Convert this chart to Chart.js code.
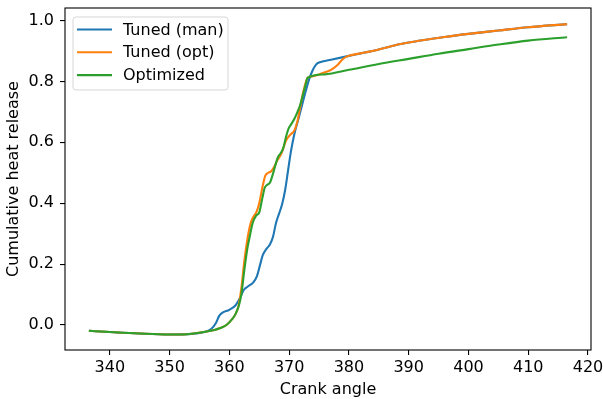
<!DOCTYPE html>
<html>
<head>
<meta charset="utf-8">
<script src="https://cdn.jsdelivr.net/npm/chart.js@4/dist/chart.umd.min.js"></script>
<style>
  html, body { margin: 0; padding: 0; background: #fff; }
  #wrap { width: 603px; height: 399px; }
</style>
</head>
<body>
<div id="wrap"><canvas id="heat-chart" width="603" height="399"></canvas></div>
<script>
// crank angle (deg) / cumulative heat release
let man_x = [336.5, 340, 345, 350, 353, 356, 357, 357.7, 358.3, 358.8, 360, 361, 361.8, 362.4, 363.2, 364, 364.6, 365.1, 365.6, 366.2, 366.8, 367.3, 367.8, 368.3, 368.8, 369.3, 369.8, 370.3, 370.9, 371.6, 372.2, 372.8, 373.4, 373.9, 374.5, 375, 377, 379.8, 382, 385, 388.4, 392, 396, 400, 405, 410, 416.5];
let man_y = [-0.019, -0.023, -0.028, -0.031, -0.03, -0.022, -0.012, 0.005, 0.03, 0.04, 0.05, 0.064, 0.09, 0.115, 0.128, 0.14, 0.16, 0.195, 0.23, 0.25, 0.265, 0.29, 0.335, 0.365, 0.395, 0.44, 0.505, 0.57, 0.63, 0.68, 0.725, 0.77, 0.81, 0.835, 0.855, 0.862, 0.871, 0.883, 0.892, 0.905, 0.922, 0.934, 0.946, 0.956, 0.967, 0.978, 0.988];

let opt_x = [336.5, 340, 345, 350, 352, 354, 356, 357.5, 358.5, 359.5, 360.5, 361, 361.5, 362, 362.5, 363, 363.5, 364, 364.5, 365, 365.5, 366, 366.5, 367, 367.5, 368, 368.7, 369.5, 370.2, 370.9, 371.4, 371.8, 372.3, 373.1, 374, 375, 376, 377, 378, 378.9, 379.8, 382, 385, 388.4, 392, 396, 400, 405, 410, 416.5];
let opt_y = [-0.019, -0.023, -0.028, -0.031, -0.031, -0.028, -0.022, -0.016, -0.01, 0.0, 0.02, 0.035, 0.06, 0.12, 0.21, 0.28, 0.33, 0.355, 0.37, 0.4, 0.45, 0.49, 0.5, 0.505, 0.52, 0.54, 0.563, 0.607, 0.625, 0.64, 0.67, 0.71, 0.76, 0.812, 0.817, 0.823, 0.83, 0.838, 0.852, 0.872, 0.883, 0.892, 0.905, 0.922, 0.934, 0.946, 0.956, 0.967, 0.978, 0.988];

let optimized_x = [336.5, 340, 345, 350, 352, 354, 356, 357.5, 358.5, 359.5, 360.5, 361, 361.6, 362, 362.5, 363, 363.4, 363.9, 364.5, 365, 365.5, 365.9, 366.3, 366.8, 367.3, 367.7, 368.1, 368.6, 369, 369.5, 369.9, 370.3, 370.9, 371.4, 371.8, 372.3, 372.7, 373.1, 376, 380, 385, 390, 395, 400, 405, 410, 416.5];
let optimized_y = [-0.019, -0.023, -0.028, -0.031, -0.031, -0.028, -0.022, -0.016, -0.01, 0.0, 0.02, 0.035, 0.065, 0.1, 0.18, 0.25, 0.29, 0.335, 0.36, 0.37, 0.415, 0.45, 0.46, 0.468, 0.497, 0.525, 0.55, 0.565, 0.58, 0.62, 0.645, 0.658, 0.678, 0.7, 0.72, 0.755, 0.785, 0.812, 0.823, 0.838, 0.857, 0.874, 0.891, 0.906, 0.921, 0.934, 0.945];

let x_ticks = [340, 350, 360, 370, 380, 390, 400, 410, 420];
let y_ticks = [0.0, 0.2, 0.4, 0.6, 0.8, 1.0];

let series_labels = ['Tuned (man)', 'Tuned (opt)', 'Optimized'];
let series_colors = ['#1f77b4', '#ff7f0e', '#2ca02c'];

let FONT = 'DejaVu Sans';
let FONT_SIZE = 16;

let to_points = function(xs, ys) {
    return xs.map(function(x, i) { return {x: x, y: ys[i]}; });
};

// full box around the plot, like matplotlib spines
let frame_plugin = {
    id: 'frame',
    afterDraw: function(chart) {
        let a = chart.chartArea;
        let ctx = chart.ctx;
        ctx.save();
        ctx.strokeStyle = '#000';
        ctx.lineWidth = 1.1;
        ctx.strokeRect(a.left, a.top, a.right - a.left, a.bottom - a.top);
        ctx.restore();
    }
};

// legend box in the upper left corner
let legend_plugin = {
    id: 'boxLegend',
    afterDatasetsDraw: function(chart) {
        let ctx = chart.ctx;
        let a = chart.chartArea;
        let bx = a.left + 8, by = a.top + 9, bw = 155, bh = 73, r = 3;
        ctx.save();
        ctx.beginPath();
        ctx.moveTo(bx + r, by);
        ctx.arcTo(bx + bw, by, bx + bw, by + bh, r);
        ctx.arcTo(bx + bw, by + bh, bx, by + bh, r);
        ctx.arcTo(bx, by + bh, bx, by, r);
        ctx.arcTo(bx, by, bx + bw, by, r);
        ctx.closePath();
        ctx.fillStyle = 'rgba(255,255,255,0.8)';
        ctx.fill();
        ctx.strokeStyle = 'rgba(204,204,204,0.8)';
        ctx.lineWidth = 1;
        ctx.stroke();

        ctx.font = FONT_SIZE + 'px "' + FONT + '"';
        ctx.textBaseline = 'middle';
        for (let i = 0; i < series_labels.length; i++) {
            let ly = by + 12.5 + i * 22.8;
            ctx.strokeStyle = series_colors[i];
            ctx.lineWidth = 2.1;
            ctx.beginPath();
            ctx.moveTo(bx + 4, ly);
            ctx.lineTo(bx + 39, ly);
            ctx.stroke();
            ctx.fillStyle = '#000';
            ctx.fillText(series_labels[i], bx + 50, ly + 1);
        }
        ctx.restore();
    }
};

let tick_grid = {
    display: true,
    drawOnChartArea: false,
    drawTicks: true,
    tickLength: 5,
    color: '#000',
    lineWidth: 1.1
};

window.onload = function() {
    let chart_element = document.getElementById('heat-chart');

    let datasets = [
        {label: series_labels[0], data: to_points(man_x, man_y), order: 3},
        {label: series_labels[1], data: to_points(opt_x, opt_y), order: 2},
        {label: series_labels[2], data: to_points(optimized_x, optimized_y), order: 1}
    ].map(function(d, i) {
        d.borderColor = series_colors[i];
        d.backgroundColor = series_colors[i];
        d.borderWidth = 2.1;
        d.pointRadius = 0;
        d.fill = false;
        d.cubicInterpolationMode = 'monotone';
        return d;
    });

    new Chart(chart_element, {
        type: 'line',
        data: {datasets: datasets},
        plugins: [frame_plugin, legend_plugin],
        options: {
            responsive: false,
            animation: false,
            devicePixelRatio: 1,
            layout: {padding: {top: 8, right: 12, left: 0, bottom: 0}},
            plugins: {
                legend: {display: false},
                tooltip: {enabled: false}
            },
            scales: {
                x: {
                    type: 'linear',
                    min: 332.5,
                    max: 420.5,
                    border: {display: false},
                    grid: tick_grid,
                    afterBuildTicks: function(scale) {
                        scale.ticks = x_ticks.map(function(v) { return {value: v}; });
                    },
                    afterFit: function(scale) {
                        scale.height = 49;
                        scale.paddingLeft = 0;
                        scale.paddingRight = 0;
                    },
                    ticks: {
                        color: '#000',
                        padding: 3,
                        maxRotation: 0,
                        font: {family: FONT, size: FONT_SIZE},
                        callback: function(v) { return String(v); }
                    },
                    title: {
                        display: true,
                        text: 'Crank angle',
                        color: '#000',
                        padding: {top: 0, bottom: 0},
                        font: {family: FONT, size: FONT_SIZE}
                    }
                },
                y: {
                    type: 'linear',
                    min: -0.082,
                    max: 1.041,
                    border: {display: false},
                    grid: tick_grid,
                    afterBuildTicks: function(scale) {
                        scale.ticks = y_ticks.map(function(v) { return {value: v}; });
                    },
                    afterFit: function(scale) {
                        scale.width = 65;
                        scale.paddingTop = 0;
                        scale.paddingBottom = 0;
                    },
                    ticks: {
                        color: '#000',
                        padding: 6,
                        font: {family: FONT, size: FONT_SIZE},
                        callback: function(v) { return v.toFixed(1); }
                    },
                    title: {
                        display: true,
                        text: 'Cumulative heat release',
                        color: '#000',
                        padding: {top: 4, bottom: 0},
                        font: {family: FONT, size: FONT_SIZE}
                    }
                }
            }
        }
    });
};
</script>
</body>
</html>
